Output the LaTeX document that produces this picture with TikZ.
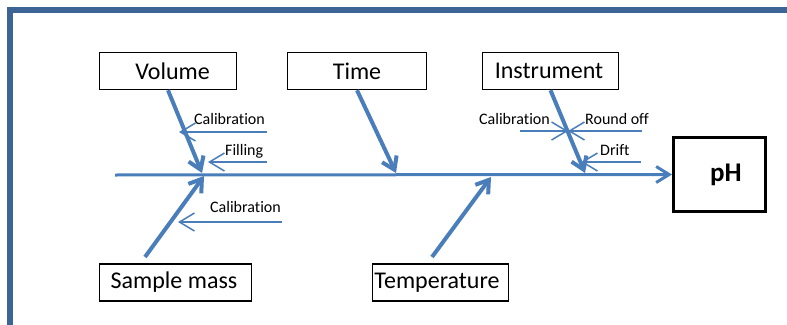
\documentclass[tikz,border=0pt]{standalone}
\usepackage{fontspec}
\setmainfont[Ligatures={NoCommon}]{Carlito}
\usetikzlibrary{arrows.meta}
\definecolor{frameblue}{HTML}{3C6494}
\definecolor{boneblue}{HTML}{4A7EBB}
\begin{document}
\begin{tikzpicture}[x=1pt,y=-1pt,
  cause/.style={draw=black, line width=1.5pt, inner sep=0pt, minimum height=37pt,
    font=\fontsize{24}{28}\selectfont},
  effect/.style={draw=black, line width=3pt, inner sep=0pt,
    font=\fontsize{27}{32}\selectfont\bfseries},
  spine/.style={draw=boneblue, line width=3pt, -{Straight Barb[length=13pt,width=16pt]}},
  bone/.style={draw=boneblue, line width=4pt, -{Straight Barb[length=12pt,width=16pt]}},
  subbone/.style={draw=boneblue, line width=1.5pt, -{Straight Barb[length=15pt,width=18pt]}},
  note/.style={anchor=base west, inner sep=0pt, font=\fontsize{16}{19}\selectfont},
]
\useasboundingbox (0,0) rectangle (787,324);
% page frame, open to the right and bottom
\begin{scope}
  \clip (0,0) rectangle (787,324);
  \draw[frameblue, line width=6pt] (800,10) -- (10,10) -- (10,340);
\end{scope}

% cause boxes and effect box
\node[cause, minimum width=137pt] (vol)  at (168,71)    {\hspace*{9pt}Volume};
\node[cause, minimum width=139pt] (time) at (357,71)    {Time};
\node[cause, minimum width=136pt] (inst) at (550.5,71)  {Instrument\hspace*{3pt}};
\node[cause, minimum width=152pt] (sm)   at (175.5,282.5) {Sample mass\hspace*{3pt}};
\node[cause, minimum width=136pt] (temp) at (440.5,282.5) {Temperature\hspace*{7pt}};
\node[effect, minimum width=92pt, minimum height=74pt] (ph) at (719.5,174.5) {\hspace*{13pt}pH};

% spine
\coordinate (spinestart) at (115,175);
\draw[spine] (spinestart) -- (ph.west);

% main bones
\coordinate (volhead)  at (202,173);
\coordinate (timehead) at (396,173);
\coordinate (insthead) at (585,173);
\coordinate (smtail)   at (145,257);
\coordinate (smhead)   at (204,176);
\coordinate (temptail) at (432,257);
\coordinate (temphead) at (491,177);
\draw[bone] (vol.south) -- (volhead);
\draw[bone] (time.south) -- (timehead);
\draw[bone] (inst.south) -- (insthead);
\draw[bone] (smtail) -- (smhead);
\draw[bone] (temptail) -- (temphead);

% sub-causes
\coordinate (vcalA) at (267,132);  \coordinate (vcalB) at (179,132);
\coordinate (fillA) at (267,162);  \coordinate (fillB) at (208,162);
\coordinate (scalA) at (282,222);  \coordinate (scalB) at (178,222);
\coordinate (icalA) at (520,131);  \coordinate (icalB) at (568,131);
\coordinate (rndA)  at (642,131);  \coordinate (rndB)  at (568,131);
\coordinate (drfA)  at (641,162);  \coordinate (drfB)  at (581,162);
\draw[subbone] (vcalA) -- (vcalB);
\draw[subbone] (fillA) -- (fillB);
\draw[subbone] (scalA) -- (scalB);
\draw[subbone] (icalA) -- (icalB);
\draw[subbone] (rndA) -- (rndB);
\draw[subbone] (drfA) -- (drfB);

% sub-cause labels
\node[note] (vcal)  at (194,124) {Calibration};
\node[note] (fill)  at (225,155) {Filling};
\node[note] (scal)  at (210,212) {Calibration};
\node[note] (ical)  at (479,124) {Calibration};
\node[note] (rnd)   at (585,124) {Round off};
\node[note] (drf)   at (600,155) {Drift};
\end{tikzpicture}
\end{document}
